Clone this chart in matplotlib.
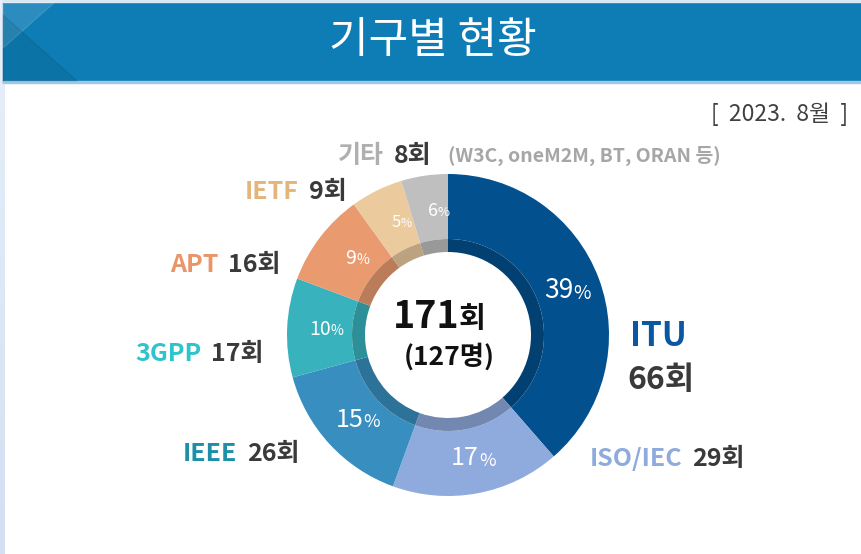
import numpy as np
import matplotlib
matplotlib.use("Agg")
import matplotlib.pyplot as plt
from matplotlib.colors import to_rgb, LinearSegmentedColormap
from matplotlib.patches import Rectangle, Polygon

plt.rcParams['font.family'] = ['Noto Sans CJK KR', 'DejaVu Sans']

# data
orgs = ["ITU", "ISO/IEC", "IEEE", "3GPP", "APT", "IETF", "기타"]
counts = [66, 29, 26, 17, 16, 9, 8]
pct_labels = [39, 17, 15, 10, 9, 5, 6]
total_count = 171
total_people = 127
title = "기구별 현황"
date_label = "[  2023.  8월  ]"
other_note = "(W3C, oneM2M, BT, ORAN 등)"

wedge_colors = ["#03508F", "#8FAADC", "#378EBF", "#38B3BE", "#E99B6F", "#EBCB9E", "#BFBFBF"]
name_colors = ["#0B58A2", "#8FAADC", "#1E8FAA", "#2EC4CB", "#E9956A", "#E2B67A", "#AFAFAF"]
count_color = "#3A3A3A"

W, H = 861, 554
fig = plt.figure(figsize=(W / 100, H / 100), dpi=100)
fig.patch.set_facecolor("white")

# background axes in pixel coords
bg = fig.add_axes([0, 0, 1, 1])
bg.set_xlim(0, W)
bg.set_ylim(H, 0)
bg.axis("off")

# left pale strip
grad = np.linspace(0, 1, 50).reshape(-1, 1)
bg.imshow(grad, extent=(0, 5, H, 0), cmap=LinearSegmentedColormap.from_list(
    "pale", ["#E8EFFA", "#D3E0F2"]), aspect="auto", zorder=0)

# header band
bg.add_patch(Rectangle((3, 2), W, 80, color="#0E7DB5", zorder=1))
bg.add_patch(Rectangle((3, 0), W, 2, color="#D8E8F4", zorder=2))
bg.add_patch(Rectangle((3, 81), W, 2, color="#9FC8E4", zorder=2))
bg.add_patch(Polygon([(3, 2), (55, 2), (3, 48)], closed=True, color="#FFFFFF", alpha=0.12, zorder=2))
bg.add_patch(Polygon([(3, 15), (77, 81), (3, 81)], closed=True, color="#000000", alpha=0.08, zorder=2))
bg.text(433, 41, title, color="white", fontsize=31, ha="center", va="center", zorder=3)

bg.text(848, 114, date_label, color="#404040", fontsize=16.5, ha="right", va="center")

# donut
cx, cy, R = 448, 335, 161
pad = 1.05
ax = fig.add_axes([(cx - R * pad) / W, (H - cy - R * pad) / H, 2 * R * pad / W, 2 * R * pad / H])
ax.set_xlim(-pad, pad)
ax.set_ylim(-pad, pad)
ax.set_aspect("equal")
ax.axis("off")

r_band = 96 / R
r_in = 83 / R
ax.pie(counts, radius=1, colors=wedge_colors, startangle=90, counterclock=False,
       wedgeprops=dict(width=1 - r_band, linewidth=0))
dark = [tuple(np.array(to_rgb(c)) * 0.8) for c in wedge_colors]
ax.pie(counts, radius=r_band, colors=dark, startangle=90, counterclock=False,
       wedgeprops=dict(width=r_band - r_in, linewidth=0))
ax.set_xlim(-pad, pad)
ax.set_ylim(-pad, pad)

# percentage labels
pct_sizes = [19, 18, 18, 14, 14, 12, 13]
angles = 90 - 360 * (np.cumsum(counts) - np.array(counts) / 2) / sum(counts)
for p, a, fs in zip(pct_labels, angles, pct_sizes):
    x, y = 0.78 * np.cos(np.radians(a)), 0.78 * np.sin(np.radians(a))
    t = ax.text(x + 0.05, y, str(p), color="white", fontsize=fs, ha="right", va="center")
    ax.annotate("%", xy=(1, 0.42), xycoords=t, color="white", fontsize=fs * 0.72,
                ha="left", va="center")

# center text
t = bg.text(459, 316, str(total_count), fontsize=27, fontweight="bold", color="#111111",
            ha="right", va="center")
bg.annotate("회", xy=(1, 0.45), xycoords=t, fontsize=21, fontweight="bold", color="#111111",
            ha="left", va="center")
bg.text(449, 357, f"({total_people}명)", fontsize=19, fontweight="bold", color="#111111",
        ha="center", va="center")

# outer labels: (x of name start, y center, name size, count size)
label_pos = {
    "ITU": (630, 337, 24, 23),
    "ISO/IEC": (590, 459, 18, 18),
    "IEEE": (183, 454, 18, 18),
    "3GPP": (135, 354, 18, 18),
    "APT": (170, 265, 18, 18),
    "IETF": (245, 192, 18, 18),
    "기타": (338, 156, 18, 18),
}
for name, cnt, nc in zip(orgs, counts, name_colors):
    x, y, fs_n, fs_c = label_pos[name]
    nt = bg.text(x, y, name, color=nc, fontsize=fs_n, fontweight="bold", ha="left", va="center")
    if name == "ITU":
        bg.text(627, 380, f"{cnt}회", color=count_color, fontsize=fs_c, fontweight="bold",
                ha="left", va="center")
        continue
    ct = bg.annotate(f"{cnt}회", xy=(1, 0.5), xycoords=nt, xytext=(7, 0), textcoords="offset points",
                     color=count_color, fontsize=fs_c, fontweight="bold", ha="left", va="center")
    if name == "기타":
        bg.annotate(other_note, xy=(1, 0.5), xycoords=ct, xytext=(12, 0), textcoords="offset points",
                    color="#A6A6A6", fontsize=14, fontweight="bold", ha="left", va="center")

fig.savefig("out.png", dpi=100)
